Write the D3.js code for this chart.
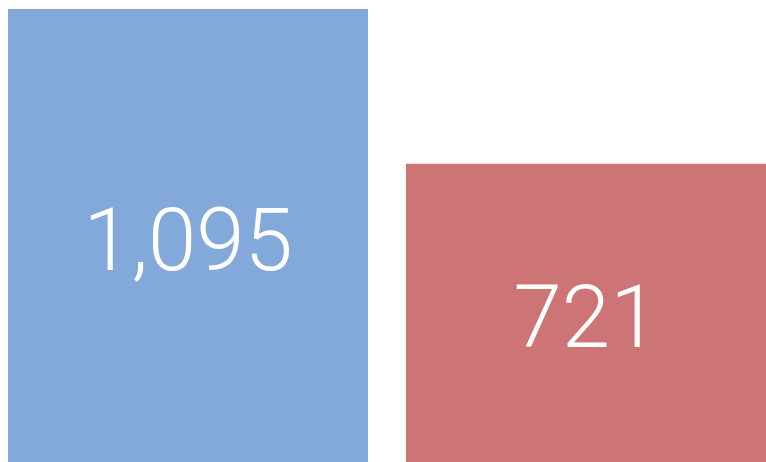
<!DOCTYPE html>
<html>
<head>
<meta charset="utf-8">
<script src="https://cdn.jsdelivr.net/npm/d3@7"></script>
<style>
    html, body { margin: 0; padding: 0; background: #fff; }
    svg { display: block; }
</style>
</head>
<body>
<div id="chart"></div>
<script>
var categories = ["A", "B"];
var values = [1095, 721];
var colors = ["#83a8da", "#cd7476"];

(function() {
    var width = 766, height = 462;
    var format = d3.format(",d");

    var svg = d3.select("#chart")
        .append("svg")
        .attr("width", width)
        .attr("height", height);

    var x = d3.scaleBand()
        .domain(categories)
        .range([8, width])
        .paddingInner(0.0955)
        .paddingOuter(0);

    var y = d3.scaleLinear()
        .domain([0, d3.max(values)])
        .range([height, 9]);

    var bar = svg.selectAll(".bar")
        .data(values)
        .enter()
        .append("g")
        .attr("class", "bar");

    bar.append("rect")
        .attr("x", function(d, i) { return x(categories[i]); })
        .attr("y", function(d) { return y(d); })
        .attr("width", x.bandwidth())
        .attr("height", function(d) { return y(0) - y(d); })
        .style("fill", function(d, i) { return colors[i]; });

    // value label, centred in the bar
    bar.append("text")
        .attr("x", function(d, i) { return x(categories[i]) + x.bandwidth() / 2; })
        .attr("y", function(d) { return (y(d) + y(0)) / 2 + 34; })
        .style("text-anchor", "middle")
        .style("font-family", "Roboto, 'Liberation Sans', sans-serif")
        .style("font-weight", 300)
        .style("font-size", "87px")
        .style("fill", "#fff")
        .text(function(d) { return format(d); });
})();
</script>
</body>
</html>
